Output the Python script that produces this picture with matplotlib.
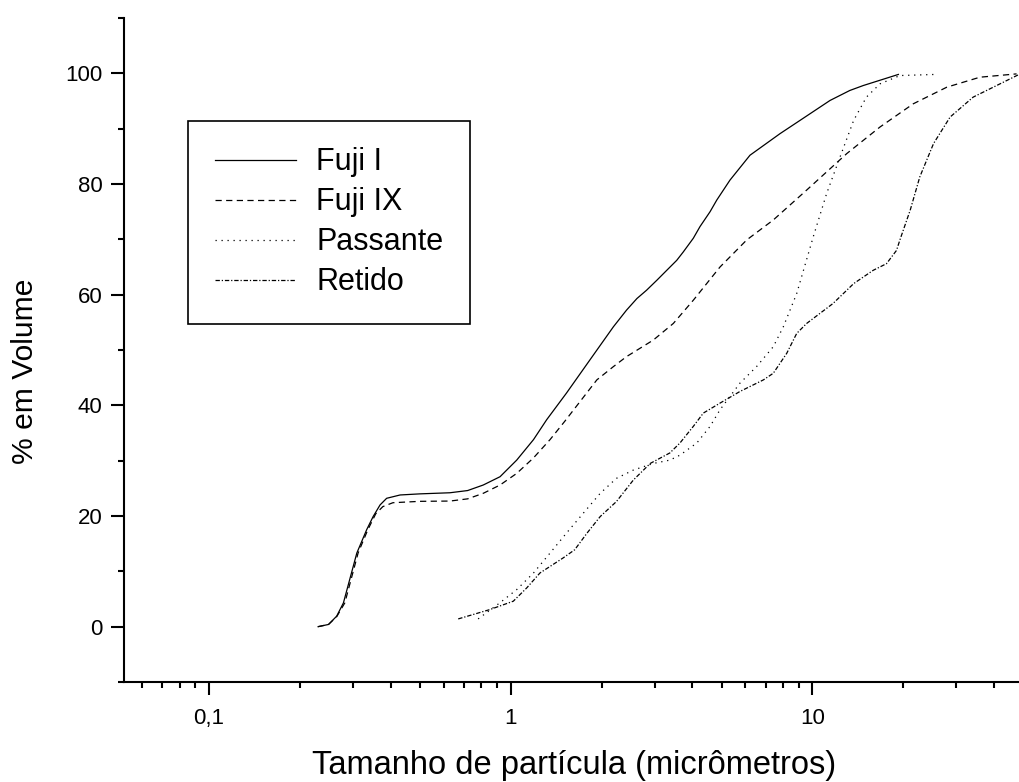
import matplotlib
matplotlib.use('Agg')
import matplotlib.pyplot as plt
from matplotlib.ticker import FixedLocator, MultipleLocator, LogLocator, FuncFormatter, NullFormatter

plt.rcParams['font.family'] = ['Liberation Sans', 'DejaVu Sans']

# particle size (micrometres) vs cumulative % volume
fuji1_x = [0.230, 0.249, 0.265, 0.279, 0.309, 0.333, 0.350, 0.369, 0.388, 0.430, 0.50, 0.629, 0.720,
           0.811, 0.922, 1.047, 1.19, 1.316, 1.53, 1.83, 2.19, 2.42, 2.62, 2.82, 3.05, 3.29, 3.55,
           3.73, 4.03, 4.24, 4.58, 4.82, 5.33, 6.21, 7.81, 9.10, 11.44, 13.3, 14.75, 19.27]
fuji1_y = [0, 0.4, 1.9, 4.3, 13.3, 17.5, 19.9, 22.0, 23.2, 23.8, 24.0, 24.2, 24.6,
           25.6, 27.1, 30.1, 33.8, 37.4, 42.2, 48.2, 54.2, 57.2, 59.3, 60.8, 62.6, 64.4, 66.2,
           67.7, 70.2, 72.3, 75.0, 77.1, 80.7, 85.2, 89.1, 91.5, 95.1, 96.9, 97.8, 99.8]

fuji9_x = [0.230, 0.249, 0.265, 0.282, 0.312, 0.336, 0.357, 0.377, 0.407, 0.500, 0.629, 0.720,
           0.811, 0.922, 1.047, 1.19, 1.35, 1.51, 1.93, 2.19, 2.42, 2.97, 3.46, 4.03, 4.94, 6.06,
           7.42, 9.57, 13.0, 16.75, 21.6, 27.9, 35.9, 47.5]
fuji9_y = [0, 0.4, 1.8, 4.3, 13.3, 17.5, 20.4, 21.7, 22.4, 22.65, 22.7, 23.1,
           24.1, 25.6, 27.7, 30.5, 33.8, 37.1, 44.6, 47.0, 48.8, 51.8, 54.8, 59.0, 65.0, 69.9,
           73.5, 78.9, 85.5, 90.3, 94.5, 97.5, 99.3, 99.9]

passante_x = [0.78, 0.92, 1.047, 1.19, 1.35, 1.53, 1.74, 1.98, 2.24, 2.55, 2.97, 3.37, 3.64,
              4.14, 4.58, 4.94, 5.33, 5.75, 6.53, 7.42, 8.01, 8.87, 10.07, 11.15, 12.35, 13.7,
              15.1, 16.75, 19.5, 25.5]
passante_y = [1.4, 4.3, 6.7, 9.7, 13.3, 16.9, 20.5, 24.1, 26.8, 28.3, 29.5, 30.1, 31.0,
              33.2, 36.2, 39.2, 41.6, 44.0, 47.0, 50.6, 54.2, 60.2, 70.5, 78.3, 84.9, 91.5,
              95.7, 98.1, 99.6, 99.8]

retido_x = [0.670, 0.854, 1.02, 1.13, 1.25, 1.49, 1.63, 1.79, 1.98, 2.24, 2.55, 2.90, 3.37,
            3.64, 4.03, 4.35, 4.94, 5.75, 6.88, 7.42, 8.22, 8.87, 9.57, 11.7, 13.7, 15.9,
            17.6, 19.0, 19.5, 21.1, 22.7, 25.2, 28.6, 34.1, 40.8, 48.4]
retido_y = [1.4, 3.1, 4.6, 7.0, 9.7, 12.4, 13.9, 16.9, 19.9, 22.6, 26.5, 29.5, 31.4,
            33.2, 36.2, 38.6, 40.4, 42.5, 44.6, 45.8, 49.4, 53.0, 54.8, 58.4, 62.0, 64.4,
            65.6, 68.0, 69.9, 75.3, 81.3, 87.3, 92.1, 95.7, 97.8, 99.8]

fig = plt.figure(figsize=(10.19, 7.82), dpi=100)
ax = fig.add_axes([124 / 1019, 100 / 782, 899.3 / 1019, 664 / 782])

lw = 0.9
ax.plot(fuji1_x, fuji1_y, color='black', lw=lw, label='Fuji I')
ax.plot(fuji9_x, fuji9_y, color='black', lw=lw, dashes=(5, 3.5), label='Fuji IX')
ax.plot(passante_x, passante_y, color='black', lw=lw, dashes=(1, 3.8), label='Passante')
ax.plot(retido_x, retido_y, color='black', lw=lw, dashes=(3.5, 1.5, 1, 1.5), label='Retido')

ax.set_xscale('log')
ax.set_xlim(0.05228, 50)
ax.set_ylim(-10, 110)

ax.spines['top'].set_visible(False)
ax.spines['right'].set_visible(False)
ax.spines['left'].set_linewidth(1.5)
ax.spines['bottom'].set_linewidth(1.5)

ax.xaxis.set_major_locator(FixedLocator([0.1, 1, 10]))
ax.xaxis.set_major_formatter(FuncFormatter(lambda v, p: ('%g' % v).replace('.', ',')))
ax.xaxis.set_minor_locator(LogLocator(base=10, subs=range(2, 10)))
ax.xaxis.set_minor_formatter(NullFormatter())
ax.yaxis.set_major_locator(MultipleLocator(20))
ax.yaxis.set_minor_locator(MultipleLocator(10))
ax.yaxis.set_major_formatter(FuncFormatter(lambda v, p: '%d' % v))

ax.tick_params(which='major', direction='out', length=9.5, width=1.5, labelsize=16)
ax.tick_params(which='minor', direction='out', length=4.5, width=1.5)
ax.tick_params(axis='x', which='major', pad=9)
ax.tick_params(axis='y', which='major', pad=6)

ax.set_xlabel('Tamanho de partícula (micrômetros)', fontsize=23.5)
ax.set_ylabel('% em Volume', fontsize=21.6)
ax.xaxis.set_label_coords(0.5, -0.103)
ax.yaxis.set_label_coords(-0.094, 0.468)

leg = ax.legend(loc='upper left', bbox_to_anchor=(0.0715, 0.845), borderaxespad=0,
                fontsize=22, fancybox=False, frameon=True, framealpha=1,
                edgecolor='black', handlelength=2.68, handletextpad=0.65,
                labelspacing=0.33, borderpad=0.86)
leg.get_frame().set_linewidth(1.2)

fig.savefig('out.png', dpi=100)
